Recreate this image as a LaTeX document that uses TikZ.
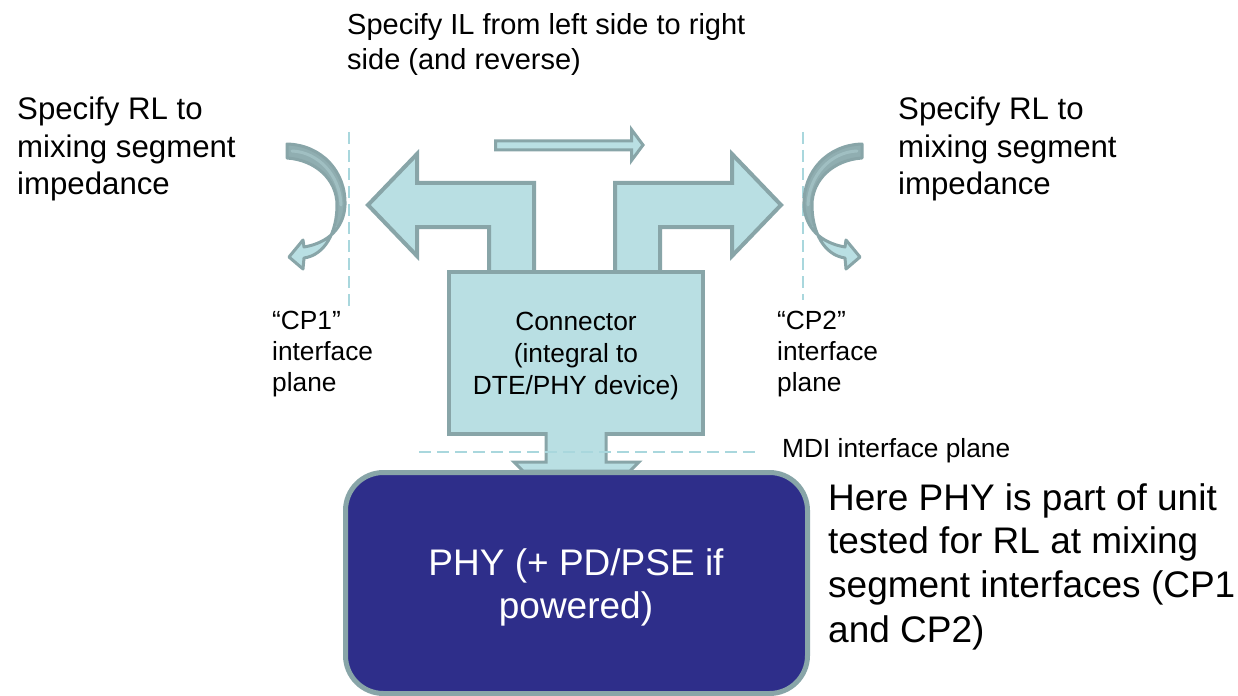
\documentclass[tikz,border=0pt]{standalone}
\usepackage{fontspec}
\setmainfont{Liberation Sans}
\definecolor{tealfill}{HTML}{B9DFE3}
\definecolor{tealedge}{HTML}{88A5A8}
\definecolor{tealdark}{HTML}{90AEB1}
\definecolor{tealmid}{HTML}{A0BFC2}
\definecolor{planeline}{HTML}{A9D7DD}
\definecolor{phyblue}{HTML}{2E2E8A}

% outline of one return-loss curved arrow (left-hand version)
\newcommand\curveoutline{(287,144) .. controls (322,145) and (346,172) .. (345,205)
  .. controls (344,228) and (328,243) .. (304,247) -- (303,240) -- (289,257)
  -- (303,269) -- (304,258) .. controls (325,255) and (337,232) .. (337,205)
  .. controls (337,180) and (316,160) .. (287,158) -- cycle}

\newcommand\returncurve{%
  \fill[tealfill] \curveoutline;
  \begin{scope}
    \clip \curveoutline;
    \fill[tealdark] (250,100) -- (360,100) -- (360,230) -- (250,214) -- cycle;
  \end{scope}
  \draw[tealmid, line width=3bp, line cap=round] (292,151) .. controls (318,152) and (340,175) .. (341,205);
  \draw[tealedge, line width=3bp, line join=round] \curveoutline;
}

\begin{document}
\begin{tikzpicture}[x=1bp,y=-1bp,
  blockarrow/.style={fill=tealfill, draw=tealedge, line width=4bp, line join=miter},
  plane/.style={draw=planeline, line width=2bp, dash pattern=on 12bp off 6bp},
  tbig/.style={font=\fontsize{31.2bp}{37.5bp}\selectfont, inner sep=0pt, anchor=base west},
  ttop/.style={font=\fontsize{29bp}{35bp}\selectfont, inner sep=0pt, anchor=base west},
  tsmall/.style={font=\fontsize{26.3bp}{31bp}\selectfont, inner sep=0pt, anchor=base west},
  tconn/.style={font=\fontsize{26.3bp}{32bp}\selectfont, inner sep=0pt, anchor=base},
  there/.style={font=\fontsize{37bp}{44bp}\selectfont, inner sep=0pt, anchor=base west},
  tphy/.style={font=\fontsize{37bp}{44bp}\selectfont, inner sep=0pt, anchor=base, text=white}]
\useasboundingbox (0,0) rectangle (1238,696);
\fill[white] (0,0) rectangle (1238,696);

% interface planes CP1 and CP2
\coordinate (cp1top) at (349,132);
\coordinate (cp1bot) at (349,308);
\coordinate (cp2top) at (803,132);
\coordinate (cp2bot) at (803,300);
\draw[plane] (cp1top) -- (cp1bot);
\draw[plane] (cp2top) -- (cp2bot);

% return-loss arrows at the two planes
\returncurve
\begin{scope}[shift={(1149,0)}, xscale=-1]
  \returncurve
\end{scope}

% insertion-loss arrow
\path[blockarrow, line width=3bp] (495.5,141) -- (631.5,141) -- (631.5,129.5) -- (643,145)
  -- (631.5,160.5) -- (631.5,150) -- (495.5,150) -- cycle;

% bent arrows leaving the connector
\path[blockarrow] (489,272) -- (489,227) -- (417,227) -- (417,256) -- (368,205)
  -- (417,154) -- (417,183) -- (534,183) -- (534,272) -- cycle;
\path[blockarrow] (660,272) -- (660,227) -- (732,227) -- (732,256) -- (781,205)
  -- (732,154) -- (732,183) -- (615,183) -- (615,272) -- cycle;

% connector body
\node[blockarrow, minimum width=254bp, minimum height=162bp, inner sep=0pt] (conn) at (576,353) {};
\node[tconn] (conn1) at (576,330) {Connector};
\node[tconn] (conn2) at (576,362) {(integral to};
\node[tconn] (conn3) at (576,394) {DTE/PHY device)};

% neck down to the PHY
\path[blockarrow, line width=3bp] (546,432) -- (546,462) -- (514,462) -- (523,471) -- (630,471)
  -- (639,462) -- (606,462) -- (606,432);

% MDI plane
\coordinate (mdil) at (419,452);
\coordinate (mdir) at (760,452);
\draw[plane] (mdil) -- (mdir);

% PHY block
\node[draw=tealedge, fill=phyblue, line width=5bp, rounded corners=38bp,
  minimum width=462bp, minimum height=221bp, inner sep=0pt] (phy) at (576.5,583) {};
\node[tphy] (phy1) at (576,575) {PHY (+ PD/PSE if};
\node[tphy] (phy2) at (576,618) {powered)};

% labels
\node[ttop] (il1) at (347,35) {Specify IL from left side to right};
\node[ttop] (il2) at (347,70) {side (and reverse)};

\node[tbig] (rla1) at (17,120) {Specify RL to};
\node[tbig] (rla2) at (17,157.5) {mixing segment};
\node[tbig] (rla3) at (17,195) {impedance};

\node[tbig] (rlb1) at (898,120) {Specify RL to};
\node[tbig] (rlb2) at (898,157.5) {mixing segment};
\node[tbig] (rlb3) at (898,195) {impedance};

\node[tsmall] (cpa1) at (272,329) {“CP1”};
\node[tsmall] (cpa2) at (272,360) {interface};
\node[tsmall] (cpa3) at (272,391) {plane};

\node[tsmall] (cpb1) at (777,329) {“CP2”};
\node[tsmall] (cpb2) at (777,360) {interface};
\node[tsmall] (cpb3) at (777,391) {plane};

\node[tsmall] (mdi) at (782,457) {MDI interface plane};

\node[there] (note1) at (828,510) {Here PHY is part of unit};
\node[there] (note2) at (828,553) {tested for RL at mixing};
\node[there] (note3) at (828,597) {segment interfaces (CP1};
\node[there] (note4) at (828,642) {and CP2)};
\end{tikzpicture}
\end{document}
